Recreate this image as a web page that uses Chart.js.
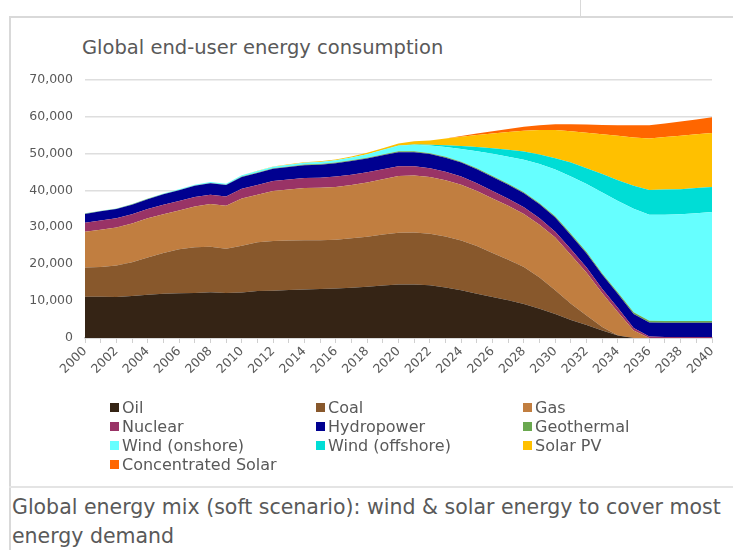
<!DOCTYPE html>
<html>
<head>
<meta charset="utf-8">
<script src="https://cdn.jsdelivr.net/npm/chart.js@4"></script>
<style>
    body { margin: 0; width: 733px; height: 550px; background: #fff; position: relative; overflow: hidden;
           font-family: "DejaVu Sans", sans-serif; color: #595959; }
    .frame { position: absolute; left: 9px; top: 16px; width: 740px; height: 540px; border-left: 2px solid #d9d9d9; border-top: 2px solid #d9d9d9; }
    .tab { position: absolute; left: 580px; top: 0; width: 0; height: 16px; border-left: 1px solid #d9d9d9; }
    .sep { position: absolute; left: 9px; top: 486px; width: 740px; border-top: 2px solid #e4e4e4; }
    #titulo { position: absolute; left: 82px; top: 36px; font-size: 19.5px; white-space: nowrap; }
    #chartBox { position: absolute; left: 0; top: 60px; width: 733px; height: 350px; }
    #leyenda { position: absolute; left: 110px; top: 398px; display: grid; grid-template-columns: 206px 207px 200px; row-gap: 0; }
    .item { display: flex; align-items: center; height: 19px; font-size: 16px; white-space: nowrap; }
    .item span.caja { width: 9px; height: 9px; margin-right: 3px; display: inline-block; }
    #pie { position: absolute; left: 12px; top: 493px; font-size: 20.5px; line-height: 29px; width: 722px; }
</style>
</head>
<body>
<div class="tab"></div>
<div class="frame"></div>
<div class="sep"></div>
<div id="titulo">Global end-user energy consumption</div>
<div id="chartBox"><canvas id="energyChart"></canvas></div>
<div id="leyenda"></div>
<div id="pie">Global energy mix (soft scenario): wind &amp; solar energy to cover most energy demand</div>

<script>
// Datos
const years = ['2000','2001','2002','2003','2004','2005','2006','2007','2008','2009',
               '2010','2011','2012','2013','2014','2015','2016','2017','2018','2019',
               '2020','2021','2022','2023','2024','2025','2026','2027','2028','2029',
               '2030','2031','2032','2033','2034','2035','2036','2037','2038','2039','2040'];

const oil = [11200,11200,11100,11400,11700,12000,12100,12200,12400,12200,
             12300,12700,12800,13000,13100,13300,13400,13600,13900,14200,
             14500,14500,14300,13700,12900,12000,11100,10200,9200,7900,
             6500,4900,3500,2000,700,0,0,0,0,0,0];
const coal = [7900,8000,8500,9100,10100,11000,11900,12400,12300,12000,
              12700,13200,13500,13400,13400,13200,13200,13400,13500,13800,
              14000,14100,13900,13800,13500,12900,11900,11000,10000,8500,
              6400,4400,2600,1000,0,0,0,0,0,0,0];
const gas = [9700,10100,10300,10500,10600,10500,10500,11000,11600,11600,
             12800,12900,13500,13800,14100,14200,14300,14400,14700,15000,
             15400,15400,15400,15200,15100,14900,14800,14600,14400,14300,
             14300,13200,11600,9100,6300,2000,0,0,0,0,0];
const nuclear = [2400,2500,2500,2500,2500,2600,2600,2600,2500,2500,
                 2600,2600,2700,2700,2700,2700,2800,2800,2800,2700,
                 2600,2500,2400,2300,2200,2100,2000,1900,1800,1700,
                 1600,1500,1400,1200,1100,700,400,300,300,300,300];
const hydro = [2400,2500,2500,2600,2700,2800,2900,3000,3100,3100,
               3200,3300,3300,3400,3500,3500,3600,3700,3700,3800,
               3800,3800,3800,3800,3800,3800,3800,3800,3800,3800,
               3800,3800,3800,3800,3800,3800,3800,3800,3800,3800,3800];
const geothermal = [100,100,100,100,100,100,100,100,100,100,
                    150,150,150,150,150,200,200,200,200,200,
                    250,250,250,250,250,300,300,300,300,300,
                    400,400,400,400,400,500,500,500,500,500,500];
const windOnshore = [50,50,60,80,100,120,150,180,220,250,
                     300,350,400,450,500,550,600,750,950,1200,
                     1500,1750,2050,2650,3450,4600,6000,7300,8800,10600,
                     12600,15500,18400,21900,24800,28000,28700,28800,28900,29200,29500];
const windOffshore = [0,0,0,0,0,0,0,0,0,0,
                      0,0,0,0,0,10,20,30,40,50,
                      50,100,200,500,800,1100,1500,1900,2200,2600,
                      3100,3800,4300,5000,5600,6200,6700,6800,6800,6800,6800];
const solarPV = [0,0,0,0,0,0,0,0,0,20,
                 50,80,100,130,160,200,250,300,380,450,
                 550,900,1200,1800,2500,3300,4000,4800,5600,6600,
                 7600,8500,9600,10800,12100,13100,13900,14200,14500,14600,14600];
const concSolar = [0,0,0,0,0,0,0,0,0,0,
                   0,0,0,0,0,0,0,0,0,0,
                   0,0,0,50,200,400,600,800,1100,1300,
                   1600,1900,2200,2500,2800,3300,3600,3700,3800,4000,4300];

const yTicksMax = 70000;
const yTicksStep = 10000;

const series = [
    { label: 'Oil', data: oil, color: '#352415' },
    { label: 'Coal', data: coal, color: '#88582c' },
    { label: 'Gas', data: gas, color: '#c17e40' },
    { label: 'Nuclear', data: nuclear, color: '#993366' },
    { label: 'Hydropower', data: hydro, color: '#000090' },
    { label: 'Geothermal', data: geothermal, color: '#6aa84f' },
    { label: 'Wind (onshore)', data: windOnshore, color: '#66ffff' },
    { label: 'Wind (offshore)', data: windOffshore, color: '#00ddd6' },
    { label: 'Solar PV', data: solarPV, color: '#ffc000' },
    { label: 'Concentrated Solar', data: concSolar, color: '#ff6600' }
];

const gris = '#595959';
const fuente = 'DejaVu Sans';

const ctx = document.getElementById('energyChart').getContext('2d');
const energyChart = new Chart(ctx, {
    type: 'line',
    data: {
        labels: years,
        datasets: series.map((s, i) => ({
            label: s.label,
            data: s.data,
            backgroundColor: s.color,
            borderColor: s.color,
            borderWidth: 0,
            pointRadius: 0,
            tension: 0,
            fill: i === 0 ? 'origin' : '-1'
        }))
    },
    options: {
        responsive: true,
        maintainAspectRatio: false,
        animation: false,
        layout: { padding: { left: 0, right: 21, top: 18, bottom: 0 } },
        plugins: {
            legend: { display: false },
            tooltip: { enabled: false }
        },
        scales: {
            x: {
                offset: false,
                grid: { drawOnChartArea: false, color: '#d0d0d0', tickLength: 5 },
                border: { color: '#c8c8c8', width: 1.5 },
                ticks: {
                    autoSkip: false,
                    maxRotation: 45, minRotation: 45,
                    color: gris,
                    font: { family: fuente, size: 12.5 },
                    padding: 1,
                    callback: function (val, i) { return i % 2 === 0 ? this.getLabelForValue(val) : ''; }
                },
                afterFit: (scale) => { scale.height = 72; }
            },
            y: {
                stacked: true,
                min: 0, max: yTicksMax,
                grid: { color: '#dedede', lineWidth: 1.5, drawTicks: false },
                border: { display: false },
                ticks: {
                    stepSize: yTicksStep,
                    color: gris,
                    padding: 12,
                    font: { family: fuente, size: 12.5 },
                    callback: (v) => v.toLocaleString('en-US')
                },
                afterFit: (scale) => { scale.width = 85; }
            }
        }
    }
});

// Leyenda en 3 columnas
const leyenda = document.getElementById('leyenda');
energyChart.data.datasets.forEach(ds => {
    const item = document.createElement('div');
    item.className = 'item';
    item.innerHTML = '<span class="caja" style="background:' + ds.backgroundColor + '"></span>' + ds.label;
    leyenda.appendChild(item);
});
</script>
</body>
</html>
